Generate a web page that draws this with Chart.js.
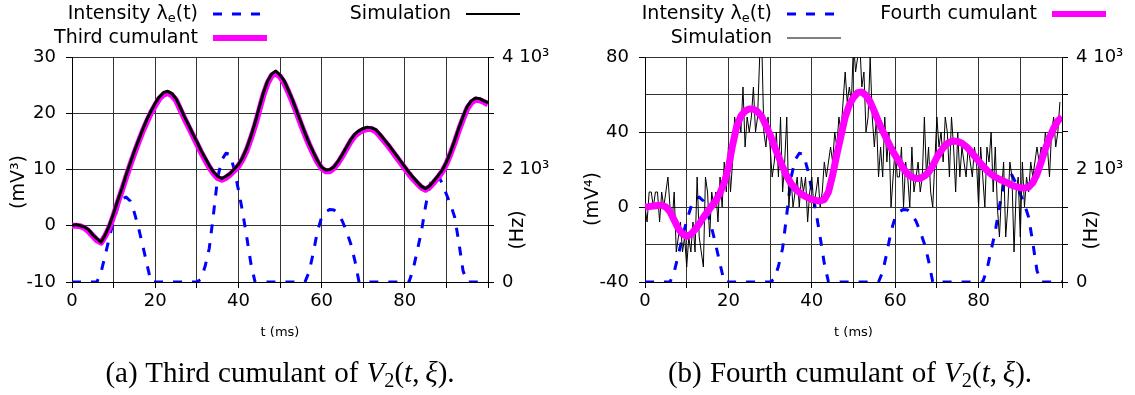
<!DOCTYPE html>
<html>
<head>
<meta charset="utf-8">
<script src="https://cdn.jsdelivr.net/npm/chart.js@4.4.1/dist/chart.umd.min.js"></script>
<style>
  body { margin: 0; background: #fff; }
  #page { position: relative; width: 1135px; height: 395px; overflow: hidden; background: #fff; }
  #page canvas { position: absolute; top: 0; }
  #left { left: 0; }
  #right { left: 567px; }
  .caption {
    position: absolute; top: 356px; line-height: 32px;
    font-family: "Liberation Serif", serif; font-size: 29px;
    word-spacing: 1px;
    white-space: nowrap; transform: translateX(-50%); color: #000;
  }
  .caption sub { font-size: 0.7em; vertical-align: -0.25em; line-height: 0; font-style: normal; }
</style>
</head>
<body>
<div id="page">
  <canvas id="left" width="567" height="395"></canvas>
  <canvas id="right" width="568" height="395"></canvas>
  <div class="caption" style="left:280px">(a) Third cumulant of <i>V</i><sub>2</sub>(<i>t</i>,&thinsp;<i>ξ</i>).</div>
  <div class="caption" style="left:850px">(b) Fourth cumulant of <i>V</i><sub>2</sub>(<i>t</i>,&thinsp;<i>ξ</i>).</div>
</div>
<script>
// time grid of the curves (ms)
const timeMs = [
  0, 1, 2, 3, 4, 5, 6, 7, 8, 9,
  10, 11, 12, 13, 14, 15, 16, 17, 18, 19,
  20, 21, 22, 23, 24, 25, 26, 27, 28, 29,
  30, 31, 32, 33, 34, 35, 36, 37, 38, 39,
  40, 41, 42, 43, 44, 45, 46, 47, 48, 49,
  50, 51, 52, 53, 54, 55, 56, 57, 58, 59,
  60, 61, 62, 63, 64, 65, 66, 67, 68, 69,
  70, 71, 72, 73, 74, 75, 76, 77, 78, 79,
  80, 81, 82, 83, 84, 85, 86, 87, 88, 89,
  90, 91, 92, 93, 94, 95, 96, 97, 98, 99,
  100
];

// excitatory input intensity (Hz), same in both panels
const intensityHz = [
  0, 0, 0, 0, 0, 0, 0, 180, 480, 800,
  1090, 1330, 1480, 1510, 1440, 1230, 960, 650, 320, 0,
  0, 0, 0, 0, 0, 0, 0, 0, 0, 0,
  0, 50, 280, 600, 1200, 1850, 2170, 2290, 2270, 2000,
  1640, 1250, 800, 330, 0, 0, 0, 0, 0, 0,
  0, 0, 0, 0, 0, 0, 0, 180, 520, 900,
  1150, 1250, 1290, 1280, 1210, 1080, 900, 680, 380, 0,
  0, 0, 0, 0, 0, 0, 0, 0, 0, 0,
  0, 0, 220, 560, 900, 1350, 1720, 1880, 1900, 1750,
  1560, 1380, 1150, 700, 200, 0, 0, 0, 0, 0,
  0
];

// third cumulant (mV^3): analytic curve and simulated estimate
const thirdCumulant = [
  0, 0, -0.1, -0.4, -1.0, -1.8, -2.6, -3.0, -1.8, -0.3,
  1.8, 4.1, 6.3, 8.6, 10.8, 12.9, 14.9, 16.8, 18.5, 20.1,
  21.4, 22.6, 23.3, 23.6, 23.2, 22.3, 20.7, 19.1, 17.6, 16.1,
  14.6, 13.1, 11.7, 10.4, 9.3, 8.5, 8.2, 8.5, 9.1, 9.8,
  10.6, 11.8, 13.4, 15.5, 17.8, 20.5, 23.2, 25.3, 26.7, 27.1,
  26.5, 25.4, 23.8, 22.0, 20.1, 18.1, 16.2, 14.4, 12.8, 11.3,
  10.2, 9.7, 9.7, 10.3, 11.2, 12.4, 13.7, 15.0, 16.0, 16.6,
  17.0, 17.2, 17.2, 16.8, 16.0, 15.1, 14.2, 13.2, 12.2, 11.2,
  10.2, 9.2, 8.3, 7.5, 6.8, 6.4, 6.9, 7.7, 8.6, 9.6,
  11.0, 12.8, 14.8, 17.0, 19.0, 20.8, 21.9, 22.4, 22.3, 22.0,
  21.6
];
const thirdSimulation = [
  0.1, 0.2, 0.0, -0.2, -0.7, -1.6, -2.3, -2.9, -1.6, 0.1,
  2.2, 4.5, 6.6, 9.0, 11.1, 13.3, 15.2, 17.1, 18.9, 20.4,
  21.8, 22.9, 23.7, 23.9, 23.5, 22.6, 21.1, 19.4, 18.0, 16.4,
  15.0, 13.4, 12.1, 10.7, 9.6, 8.8, 8.4, 8.8, 9.3, 10.1,
  10.9, 12.1, 13.8, 15.9, 18.3, 21.0, 23.6, 25.7, 27.0, 27.5,
  26.8, 25.8, 24.1, 22.4, 20.4, 18.5, 16.5, 14.7, 13.1, 11.6,
  10.4, 9.9, 10.0, 10.5, 11.5, 12.7, 14.0, 15.3, 16.3, 16.9,
  17.3, 17.5, 17.4, 17.1, 16.3, 15.4, 14.5, 13.5, 12.5, 11.5,
  10.5, 9.5, 8.6, 7.8, 7.0, 6.6, 7.1, 8.0, 8.9, 9.9,
  11.3, 13.1, 15.2, 17.4, 19.4, 21.2, 22.2, 22.7, 22.6, 22.2,
  21.9
];

// fourth cumulant (mV^4)
const fourthCumulant = [
  0, 0.2, 0.5, 0.8, 1.0, 0, -2.5, -7.0, -11.5, -14.5,
  -15.6, -14.6, -12, -9, -5.5, -2.5, 0.5, 3.5, 7.5, 13,
  21, 33, 43, 48.5, 51.2, 52.3, 52.2, 50.8, 48.2, 43.5,
  38.5, 32.5, 27, 21.5, 16.5, 12.5, 9.8, 7.8, 6.2, 5,
  4, 3.5, 3.2, 4, 8, 17, 28, 38, 48, 54.5,
  58.5, 61, 61.3, 59.5, 56, 51, 45.5, 40.5, 36, 31.5,
  27.5, 24, 20.5, 17.5, 16, 15.2, 15.2, 16.5, 18.5, 22,
  26.5, 30, 33, 34.6, 35.2, 35, 34, 32.3, 30, 27.2,
  24.5, 22, 19.5, 17.5, 16, 14.8, 13.8, 12.7, 11.6, 10.8,
  10.3, 10.1, 10.6, 13, 17.5, 24, 31, 37, 42, 46,
  48
];

// simulated fourth cumulant, sampled every 0.5 ms
const simTimeMs = [
  0, 0.5, 1, 1.5, 2, 2.5, 3, 3.5, 4, 4.5,
  5, 5.5, 6, 6.5, 7, 7.5, 8, 8.5, 9, 9.5,
  10, 10.5, 11, 11.5, 12, 12.5, 13, 13.5, 14, 14.5,
  15, 15.5, 16, 16.5, 17, 17.5, 18, 18.5, 19, 19.5,
  20, 20.5, 21, 21.5, 22, 22.5, 23, 23.5, 24, 24.5,
  25, 25.5, 26, 26.5, 27, 27.5, 28, 28.5, 29, 29.5,
  30, 30.5, 31, 31.5, 32, 32.5, 33, 33.5, 34, 34.5,
  35, 35.5, 36, 36.5, 37, 37.5, 38, 38.5, 39, 39.5,
  40, 40.5, 41, 41.5, 42, 42.5, 43, 43.5, 44, 44.5,
  45, 45.5, 46, 46.5, 47, 47.5, 48, 48.5, 49, 49.5,
  50, 50.5, 51, 51.5, 52, 52.5, 53, 53.5, 54, 54.5,
  55, 55.5, 56, 56.5, 57, 57.5, 58, 58.5, 59, 59.5,
  60, 60.5, 61, 61.5, 62, 62.5, 63, 63.5, 64, 64.5,
  65, 65.5, 66, 66.5, 67, 67.5, 68, 68.5, 69, 69.5,
  70, 70.5, 71, 71.5, 72, 72.5, 73, 73.5, 74, 74.5,
  75, 75.5, 76, 76.5, 77, 77.5, 78, 78.5, 79, 79.5,
  80, 80.5, 81, 81.5, 82, 82.5, 83, 83.5, 84, 84.5,
  85, 85.5, 86, 86.5, 87, 87.5, 88, 88.5, 89, 89.5,
  90, 90.5, 91, 91.5, 92, 92.5, 93, 93.5, 94, 94.5,
  95, 95.5, 96, 96.5, 97, 97.5, 98, 98.5, 99, 99.5
];
const fourthSimulation = [
  0, -8, 8, 8, 0, 8, 8, -8, 8, 0,
  8, 16, 0, -8, 8, -24, -16, -8, -24, -16,
  -32, -16, -24, -8, -24, 16, -16, -24, -32, 16,
  8, -16, 8, 0, 8, -8, 16, 0, 24, 8,
  32, 8, 24, 48, 40, 48, 40, 64, 32, 48,
  40, 48, 64, 40, 48, 80, 88, 40, 32, 48,
  32, 16, 24, 40, 16, 48, 8, 24, 48, 0,
  16, 0, 8, 16, 0, 16, 8, 16, -8, 8,
  16, 0, 8, 16, 0, 8, 24, 16, 24, 32,
  24, 40, 32, 48, 40, 56, 72, 56, 64, 56,
  88, 72, 80, 88, 64, 72, 40, 48, 80, 48,
  32, 48, 16, 32, 16, 48, 24, 40, 0, 16,
  32, 16, 16, 32, 0, 24, 16, 0, 32, 8,
  16, 24, 8, 16, 48, 16, 32, 8, 0, 24,
  48, 32, 40, 24, 48, 40, 16, 48, 32, 8,
  40, 16, 32, 24, 16, 32, 24, 16, 32, 24,
  0, 32, 16, 0, 32, 24, 40, 8, 32, 0,
  -16, 8, 24, -16, 0, 24, 16, -24, 8, 16,
  -16, 24, 0, 16, 8, 24, 16, 24, 32, 24,
  32, 24, 40, 32, 16, 40, 48, 32, 40, 56
];

// ticks
const timeTicks = [0, 10, 20, 30, 40, 50, 60, 70, 80, 90, 100];
const timeTickLabels = ['0', '', '20', '', '40', '', '60', '', '80', '', ''];
const thirdTicks = [-10, 0, 10, 20, 30];
const thirdTickLabels = ['-10', '0', '10', '20', '30'];
const fourthTicks = [-40, -20, 0, 20, 40, 60, 80];
const fourthTickLabels = ['-40', '', '0', '', '40', '', '80'];
const hzTicksA = [0, 1000, 2000, 3000, 4000];
const hzTickLabelsA = ['0', '', '2 10³', '', '4 10³'];
const hzTicksB = [0, 666.7, 1333.3, 2000, 2666.7, 3333.3, 4000];
const hzTickLabelsB = ['0', '', '', '2 10³', '', '', '4 10³'];

Chart.defaults.font.family = '"DejaVu Sans", sans-serif';
Chart.defaults.font.size = 18;
Chart.defaults.color = '#000';

const FONT = '"DejaVu Sans", sans-serif';
const GRID = '#333';

const pairs = (xs, ys) => xs.map((x, i) => ({x: x, y: ys[i]}));

// gnuplot-style key: text right-aligned, line sample to its right
const keyRows = {
    id: 'keyRows',
    afterDraw(chart, args, opts) {
        const ctx = chart.ctx;
        ctx.save();
        ctx.textBaseline = 'middle';
        ctx.fillStyle = '#000';
        opts.items.forEach(item => {
            const ds = chart.data.datasets[item.dataset];
            const parts = item.parts || [[ds.label]];
            let width = 0;
            parts.forEach(p => {
                ctx.font = (p[1] === 'sub' ? '13px ' : '19px ') + FONT;
                width += ctx.measureText(p[0]).width;
            });
            let x = item.x - width;
            parts.forEach(p => {
                const sub = p[1] === 'sub';
                ctx.font = (sub ? '13px ' : '19px ') + FONT;
                ctx.fillText(p[0], x, item.y + (sub ? 5 : 0));
                x += ctx.measureText(p[0]).width;
            });
            ctx.beginPath();
            ctx.setLineDash(ds.borderDash || []);
            ctx.lineWidth = item.lineWidth || ds.borderWidth;
            ctx.strokeStyle = ds.borderColor;
            ctx.moveTo(item.x + 15, item.y);
            ctx.lineTo(item.x + 69, item.y);
            ctx.stroke();
        });
        ctx.restore();
    }
};

// rotated unit labels beside the y axes
const sideTitles = {
    id: 'sideTitles',
    afterDraw(chart, args, opts) {
        const ctx = chart.ctx;
        ctx.save();
        ctx.font = '19px ' + FONT;
        ctx.fillStyle = '#000';
        ctx.textAlign = 'center';
        ctx.textBaseline = 'middle';
        opts.items.forEach(item => {
            ctx.save();
            ctx.translate(item.x, item.y);
            ctx.rotate(-Math.PI / 2);
            ctx.fillText(item.text, 0, 0);
            ctx.restore();
        });
        ctx.restore();
    }
};

function panelOptions(cfg) {
    return {
        responsive: false,
        animation: false,
        devicePixelRatio: 1,
        layout: {padding: {top: 57, left: 0, right: 0, bottom: 0}},
        elements: {
            point: {radius: 0},
            line: {tension: 0, borderJoinStyle: 'round', borderCapStyle: 'butt'},
        },
        plugins: {
            legend: {display: false},
            tooltip: {enabled: false},
            keyRows: {items: cfg.key},
            sideTitles: {items: cfg.sideTitles},
        },
        scales: {
            x: {
                type: 'linear',
                min: 0,
                max: 100,
                afterFit: s => { s.height = 113 },
                afterBuildTicks: s => { s.ticks = timeTicks.map(v => ({value: v})) },
                ticks: {
                    autoSkip: false,
                    maxRotation: 0,
                    padding: 3,
                    callback: (v, i) => timeTickLabels[i],
                },
                grid: {color: GRID, lineWidth: 1, tickLength: 6, tickColor: '#000'},
                border: {color: '#000', width: 1},
                title: {display: true, text: 't (ms)', font: {size: 13}, padding: {top: 0, bottom: 55}},
            },
            y: {
                min: cfg.yTicks[0],
                max: cfg.yTicks[cfg.yTicks.length - 1],
                afterFit: s => { s.width = cfg.leftWidth },
                afterBuildTicks: s => { s.ticks = cfg.yTicks.map(v => ({value: v})) },
                ticks: {
                    autoSkip: false,
                    padding: 10,
                    callback: (v, i) => cfg.yTickLabels[i],
                },
                grid: {
                    color: GRID,
                    lineWidth: 1,
                    tickLength: 6,
                    tickColor: c => cfg.yTickLabels[c.index] ? '#000' : 'rgba(0,0,0,0)',
                },
                border: {color: '#000', width: 1},
            },
            y1: {
                position: 'right',
                min: 0,
                max: 4000,
                afterFit: s => { s.width = cfg.rightWidth },
                afterBuildTicks: s => { s.ticks = cfg.hzTicks.map(v => ({value: v})) },
                ticks: {
                    autoSkip: false,
                    padding: 8,
                    callback: (v, i) => cfg.hzTickLabels[i],
                },
                grid: {drawOnChartArea: false, tickLength: 6, tickColor: '#000'},
                border: {color: '#000', width: 1},
            },
        },
    }
}

// (a) third cumulant
new Chart(document.getElementById('left'), {
    type: 'line',
    data: {
        datasets: [
            {
                label: 'Simulation',
                data: pairs(timeMs, thirdSimulation),
                borderColor: '#000000',
                borderWidth: 3,
                yAxisID: 'y',
            },
            {
                label: 'Third cumulant',
                data: pairs(timeMs, thirdCumulant),
                borderColor: '#ff00ff',
                borderWidth: 6,
                yAxisID: 'y',
            },
            {
                label: 'Intensity λe(t)',
                data: pairs(timeMs, intensityHz),
                borderColor: '#0000ff',
                borderWidth: 3,
                borderDash: [9, 10],
                yAxisID: 'y1',
            },
        ],
    },
    options: panelOptions({
        yTicks: thirdTicks,
        yTickLabels: thirdTickLabels,
        hzTicks: hzTicksA,
        hzTickLabels: hzTickLabelsA,
        leftWidth: 72,
        rightWidth: 79,
        key: [
            {dataset: 2, x: 198, y: 14, parts: [['Intensity λ'], ['e', 'sub'], ['(t)']]},
            {dataset: 0, x: 451, y: 14, lineWidth: 2},
            {dataset: 1, x: 198, y: 38},
        ],
        sideTitles: [
            {text: '(mV³)', x: 19, y: 182},
            {text: '(Hz)', x: 518, y: 230},
        ],
    }),
    plugins: [keyRows, sideTitles],
});

// (b) fourth cumulant
new Chart(document.getElementById('right'), {
    type: 'line',
    data: {
        datasets: [
            {
                label: 'Fourth cumulant',
                data: pairs(timeMs, fourthCumulant),
                borderColor: '#ff00ff',
                borderWidth: 7,
                yAxisID: 'y',
            },
            {
                label: 'Simulation',
                data: pairs(simTimeMs, fourthSimulation),
                borderColor: '#000000',
                borderWidth: 1,
                clip: 0,
                yAxisID: 'y',
            },
            {
                label: 'Intensity λe(t)',
                data: pairs(timeMs, intensityHz),
                borderColor: '#0000ff',
                borderWidth: 3,
                borderDash: [9, 10],
                yAxisID: 'y1',
            },
        ],
    },
    options: panelOptions({
        yTicks: fourthTicks,
        yTickLabels: fourthTickLabels,
        hzTicks: hzTicksB,
        hzTickLabels: hzTickLabelsB,
        leftWidth: 78,
        rightWidth: 73,
        key: [
            {dataset: 2, x: 205, y: 14, parts: [['Intensity λ'], ['e', 'sub'], ['(t)']]},
            {dataset: 0, x: 470, y: 14, lineWidth: 6},
            {dataset: 1, x: 205, y: 38},
        ],
        sideTitles: [
            {text: '(mV⁴)', x: 26, y: 199},
            {text: '(Hz)', x: 525, y: 230},
        ],
    }),
    plugins: [keyRows, sideTitles],
});
</script>
</body>
</html>
